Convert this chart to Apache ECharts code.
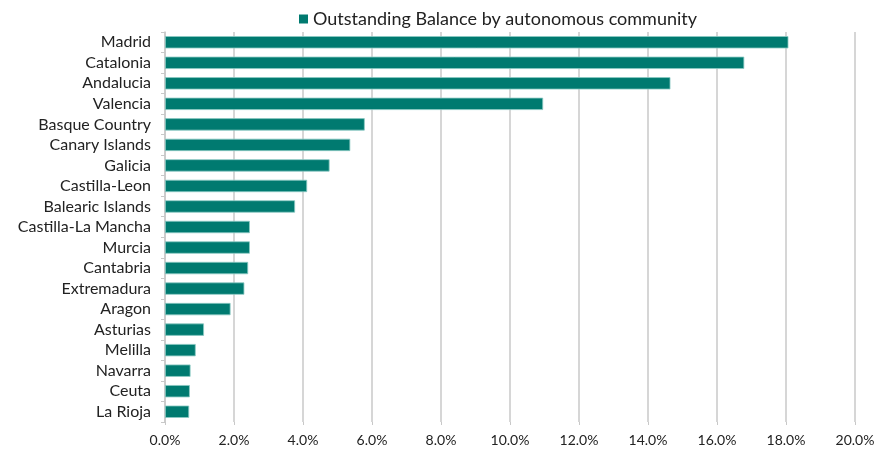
<!DOCTYPE html>
<html>
<head>
<meta charset="utf-8">
<script src="https://cdn.jsdelivr.net/npm/echarts@6/dist/echarts.min.js"></script>
<style>
  html, body { margin: 0; padding: 0; background: #fff; }
  #chart { width: 884px; height: 453px; }
</style>
</head>
<body>
<div id="chart"></div>
<script>
// Share of outstanding balance per autonomous community (%)
const communities = [
  'Madrid', 'Catalonia', 'Andalucia', 'Valencia', 'Basque Country',
  'Canary Islands', 'Galicia', 'Castilla-Leon', 'Balearic Islands',
  'Castilla-La Mancha', 'Murcia', 'Cantabria', 'Extremadura', 'Aragon',
  'Asturias', 'Melilla', 'Navarra', 'Ceuta', 'La Rioja'
];
const balanceShare = [
  18.07, 16.79, 14.65, 10.96, 5.79,
  5.37, 4.77, 4.12, 3.77,
  2.46, 2.46, 2.41, 2.30, 1.90,
  1.13, 0.89, 0.74, 0.72, 0.70
];
const seriesName = 'Outstanding Balance by autonomous community';

const fontFamily = 'Lato, "Noto Sans", sans-serif';
const chart = echarts.init(document.getElementById('chart'));

chart.setOption({
  animation: false,
  textStyle: { fontFamily: fontFamily },
  legend: {
    top: 5,
    left: 294,
    itemWidth: 9,
    itemHeight: 9,
    itemGap: 6,
    icon: 'rect',
    itemStyle: { borderWidth: 0 },
    textStyle: { fontSize: 18, color: '#222', fontFamily: fontFamily },
    data: [seriesName]
  },
  grid: { left: 165, right: 29, top: 32, bottom: 31, containLabel: false },
  xAxis: {
    type: 'value',
    min: 0,
    max: 20,
    interval: 2,
    axisLine: { show: false },
    axisTick: { show: true, length: 3, lineStyle: { color: '#c8c8c8' } },
    splitLine: { show: true, lineStyle: { color: '#c8c8c8', width: 1.5 } },
    axisLabel: {
      color: '#222',
      fontSize: 14,
      margin: 11,
      formatter: v => v.toFixed(1) + '%'
    }
  },
  yAxis: {
    type: 'category',
    inverse: true,
    data: communities,
    axisLine: { show: true, lineStyle: { color: '#c8c8c8', width: 1.5 } },
    axisTick: { show: true, length: 4, lineStyle: { color: '#c8c8c8' } },
    axisLabel: { color: '#222', fontSize: 16, margin: 14, interval: 0 }
  },
  series: [{
    name: seriesName,
    type: 'bar',
    data: balanceShare,
    barCategoryGap: '40%',
    itemStyle: {
      color: '#007a70',
      borderColor: '#8ccac4',
      borderWidth: 0.8
    }
  }]
});
</script>
</body>
</html>
